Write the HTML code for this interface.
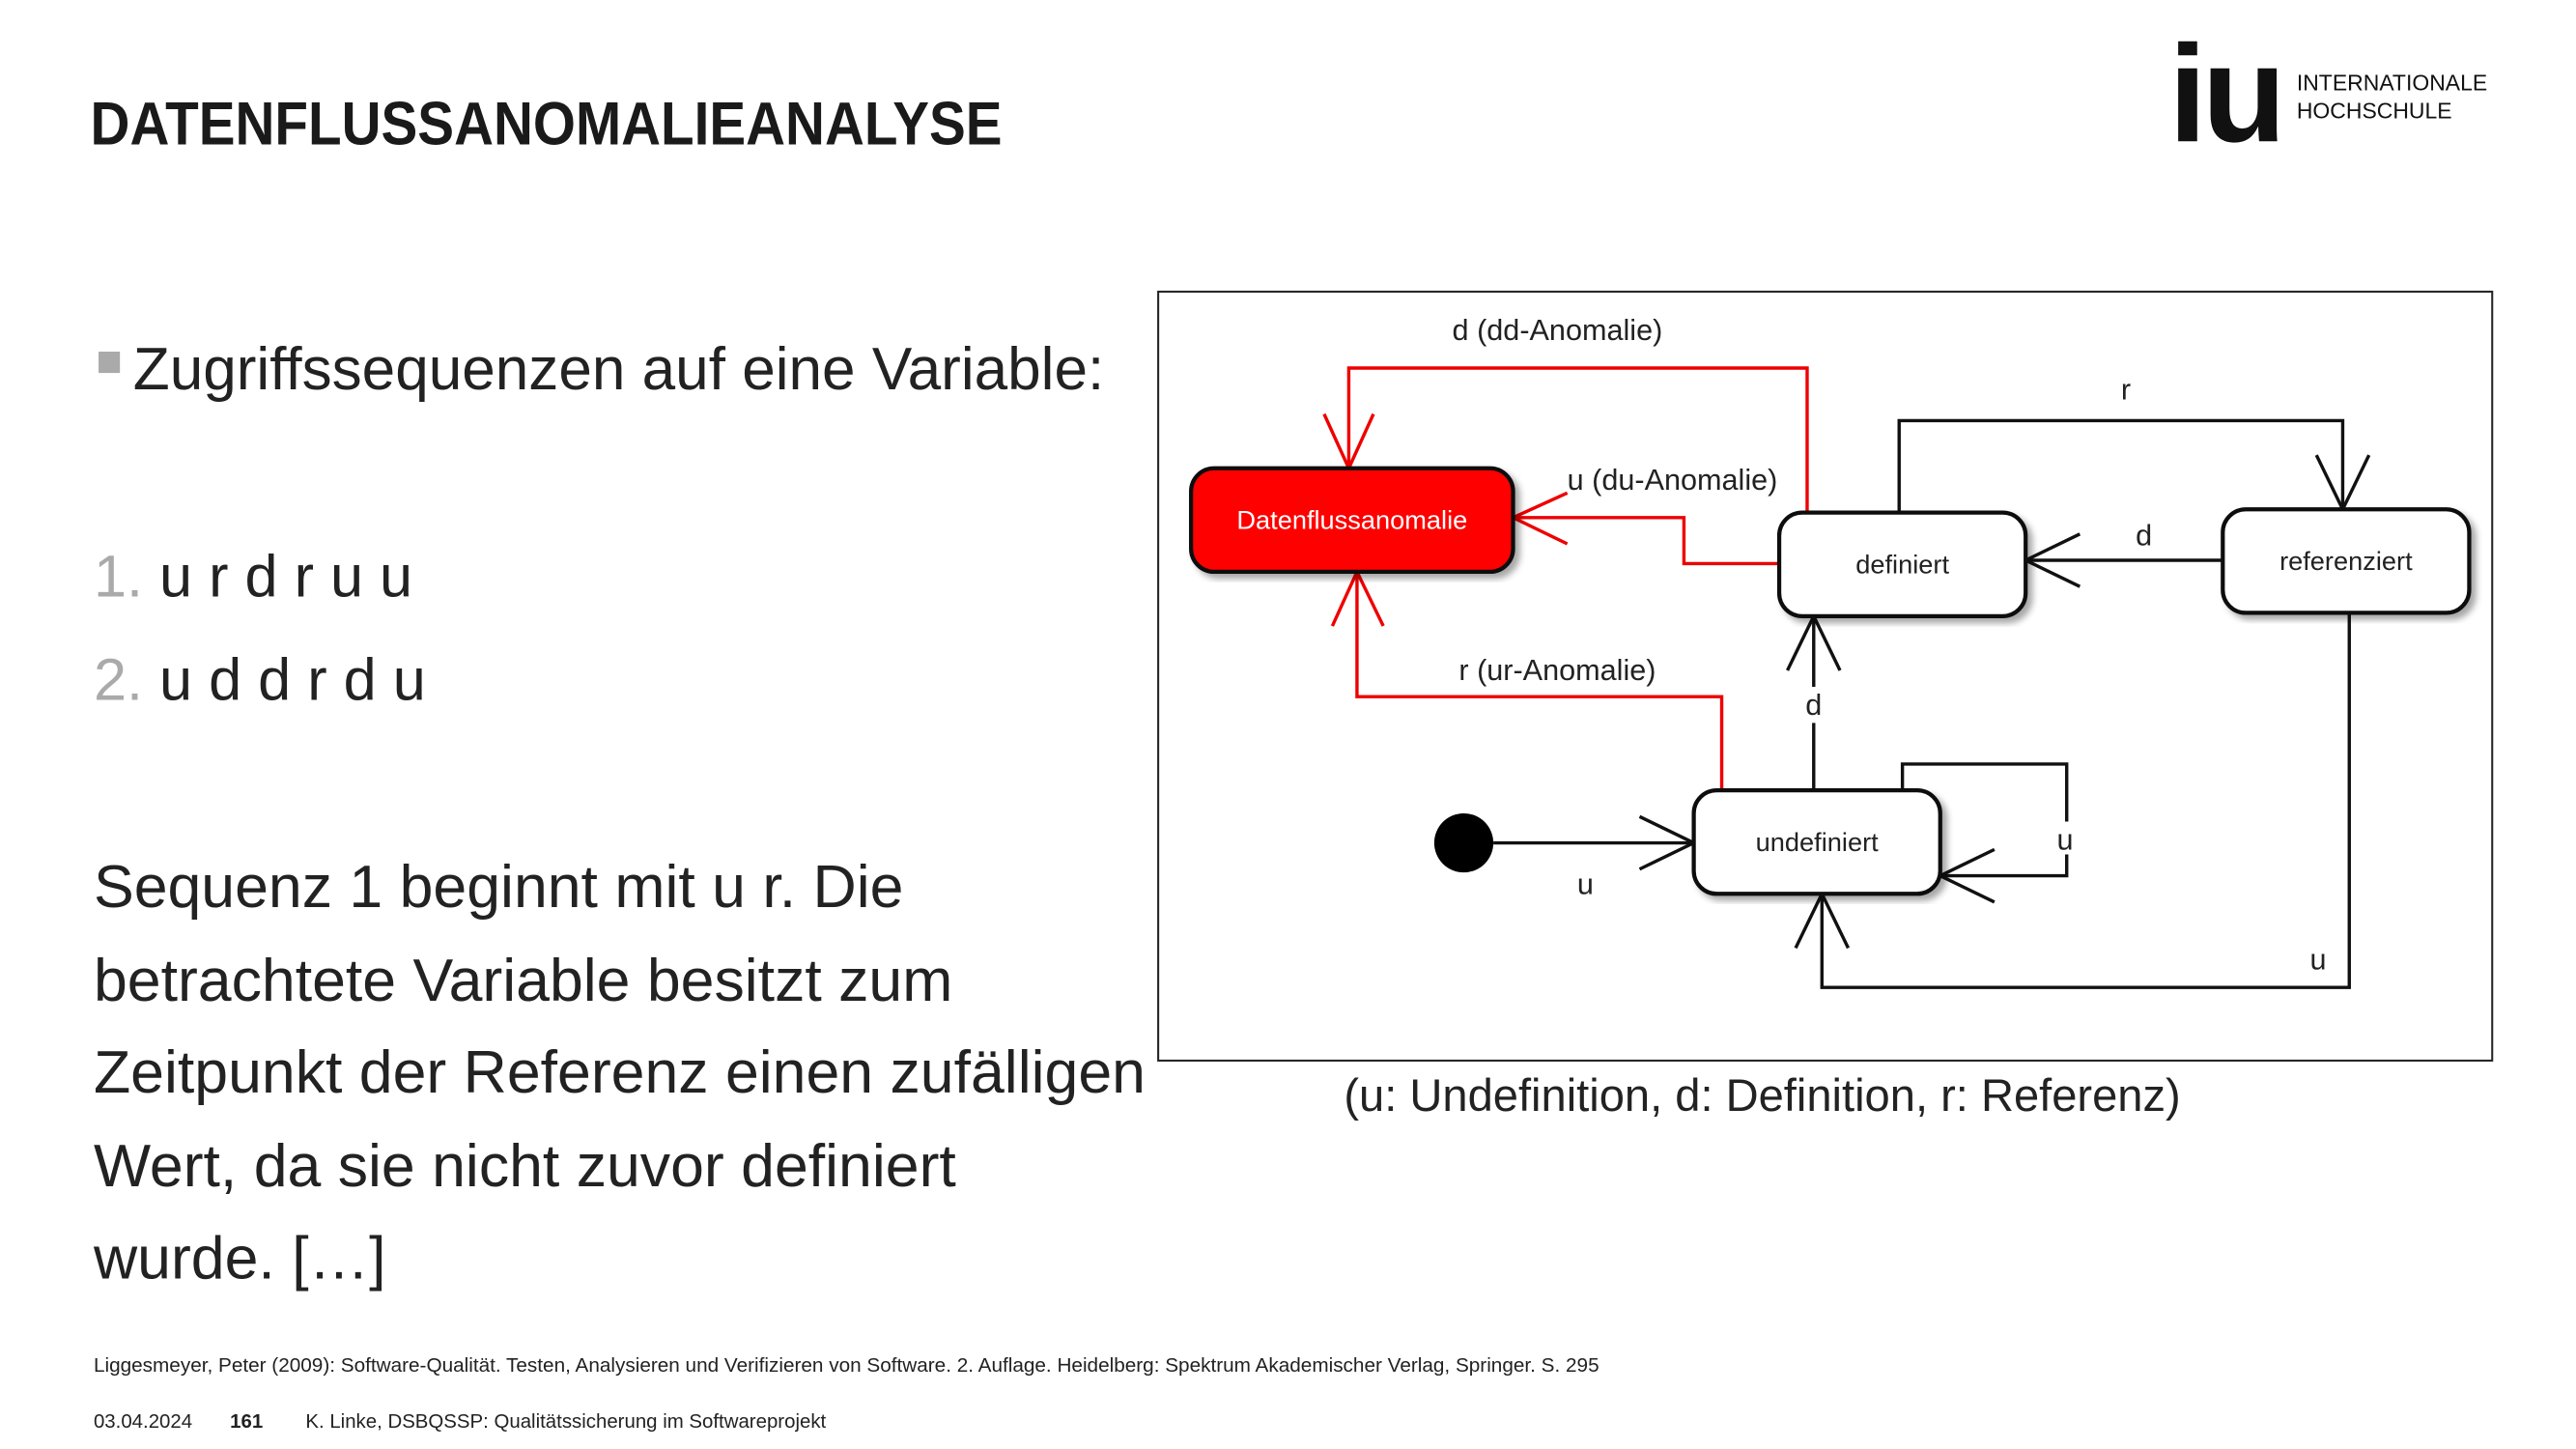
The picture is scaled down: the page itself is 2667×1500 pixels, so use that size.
<!DOCTYPE html>
<html><head><meta charset="utf-8"><style>
html,body{margin:0;padding:0;background:#fff;overflow:hidden}
#w{width:1568px;height:882px;position:relative;transform:scale(1.70089);transform-origin:0 0;font-family:"Liberation Sans",sans-serif;color:#222}
.a{position:absolute;white-space:nowrap}
</style></head><body><div id="w">
<div class="a" style="left:55px;top:55px;font-size:37px;font-weight:bold;color:#1a1a1a;transform:scaleX(0.9);transform-origin:0 0">DATENFLUSSANOMALIEANALYSE</div>
<div class="a" style="left:1320px;top:22px;font-size:84px;font-weight:bold;line-height:70px;color:#111;letter-spacing:-3px">iu</div>
<div class="a" style="left:1398px;top:42px;font-size:13.5px;line-height:17px;color:#111">INTERNATIONALE<br>HOCHSCHULE</div>
<div class="a" style="left:60px;top:214px;width:13px;height:13px;background:#aaa"></div>
<div class="a" style="left:81px;top:204px;font-size:36.5px">Zugriffssequenzen auf eine Variable:</div>
<div class="a" style="left:57px;top:330px;font-size:36px"><span style="color:#aaa">1.</span> u r d r u u</div>
<div class="a" style="left:57px;top:393px;font-size:36px"><span style="color:#aaa">2.</span> u d d r d u</div>
<div class="a" style="left:57px;top:512px;font-size:36.8px;line-height:56.5px">Sequenz 1 beginnt mit u r. Die<br>betrachtete Variable besitzt zum<br>Zeitpunkt der Referenz einen zufälligen<br>Wert, da sie nicht zuvor definiert<br>wurde. […]</div>
<div class="a" style="left:818px;top:651px;font-size:27.7px">(u: Undefinition, d: Definition, r: Referenz)</div>
<div class="a" style="left:57px;top:824px;font-size:12.2px">Liggesmeyer, Peter (2009): Software-Qualität. Testen, Analysieren und Verifizieren von Software. 2. Auflage. Heidelberg: Spektrum Akademischer Verlag, Springer. S. 295</div>
<div class="a" style="left:57px;top:858px;font-size:12px">03.04.2024</div>
<div class="a" style="left:140px;top:858px;font-size:12px;font-weight:bold">161</div>
<div class="a" style="left:186px;top:858px;font-size:12px">K. Linke, DSBQSSP: Qualitätssicherung im Softwareprojekt</div>
<svg class="a" style="left:0;top:0" width="1568" height="882" font-family="Liberation Sans, sans-serif">
<defs><filter id="s"><feDropShadow dx="3" dy="3" stdDeviation="2" flood-color="#000" flood-opacity="0.35"/></filter></defs>
<rect x="705" y="177.5" width="812" height="468" fill="none" stroke="#222" stroke-width="1.2"/>
<g fill="none" stroke-width="2">
<g stroke="#e00">
<polyline points="1100,312 1100,224 821,224 821,285"/><polyline points="806,252 821,285 836,252"/>
<polyline points="1083,343 1025,343 1025,315 921,315"/><polyline points="954,300 921,315 954,331"/>
<polyline points="1048,481 1048,424 826,424 826,348"/><polyline points="811,381 826,348 842,381"/>
</g>
<g stroke="#111">
<polyline points="1156,312 1156,256 1426,256 1426,310"/><polyline points="1410,277 1426,310 1442,277"/>
<line x1="1353" y1="341" x2="1233" y2="341"/><polyline points="1266,325 1233,341 1266,357"/>
<line x1="1104" y1="481" x2="1104" y2="440"/><line x1="1104" y1="418" x2="1104" y2="375"/><polyline points="1088,408 1104,375 1120,408"/>
<polyline points="1158,481 1158,465 1258,465 1258,500"/><polyline points="1258,520 1258,533 1181,533"/><polyline points="1214,517 1181,533 1214,549"/>
<line x1="909" y1="513" x2="1031" y2="513"/><polyline points="998,497 1031,513 998,529"/>
<polyline points="1430,373 1430,601 1109,601 1109,544"/><polyline points="1093,577 1109,544 1125,577"/>
</g></g>
<circle cx="891" cy="513" r="18" fill="#000"/>
<rect x="725" y="285" width="196" height="63" rx="14" fill="#f00" stroke="#111" stroke-width="2.5" filter="url(#s)"/>
<rect x="1083" y="312" width="150" height="63" rx="14" fill="#fff" stroke="#111" stroke-width="2.5" filter="url(#s)"/>
<rect x="1353" y="310" width="150" height="63" rx="14" fill="#fff" stroke="#111" stroke-width="2.5" filter="url(#s)"/>
<rect x="1031" y="481" width="150" height="63" rx="14" fill="#fff" stroke="#111" stroke-width="2.5" filter="url(#s)"/>
<g font-size="16" text-anchor="middle" fill="#222">
<text x="823" y="322" fill="#fff">Datenflussanomalie</text>
<text x="1158" y="349">definiert</text>
<text x="1428" y="347">referenziert</text>
<text x="1106" y="518">undefiniert</text>
<g font-size="18">
<text x="948" y="207">d (dd-Anomalie)</text>
<text x="1018" y="298">u (du-Anomalie)</text>
<text x="948" y="414">r (ur-Anomalie)</text>
<text x="1294" y="243">r</text>
<text x="1305" y="332">d</text>
<text x="1104" y="435">d</text>
<text x="1257" y="517">u</text>
<text x="965" y="544">u</text>
<text x="1411" y="590">u</text>
</g></g>
</svg>
</div></body></html>
